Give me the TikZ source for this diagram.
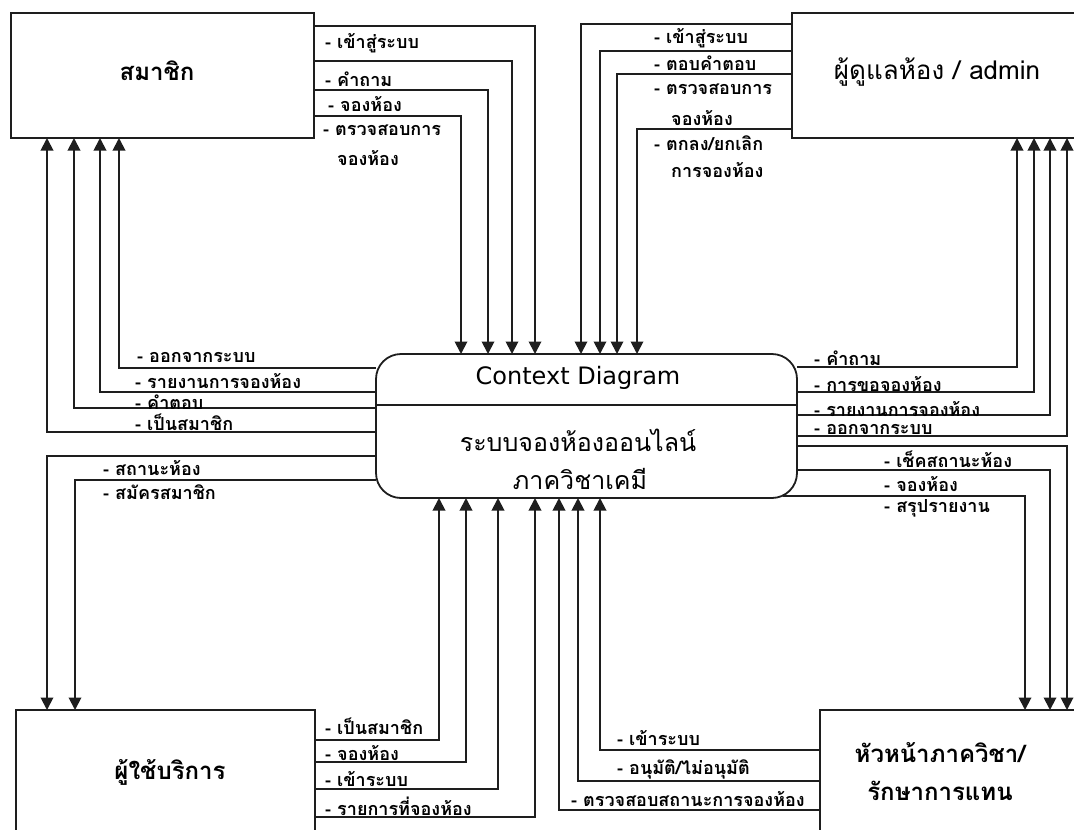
\documentclass[tikz,border=0pt]{standalone}
\usepackage{fontspec}
\setmainfont[Script=Thai]{Loma}
\newfontfamily\latinsans{DejaVu Sans}
\usetikzlibrary{arrows.meta,calc}
\definecolor{linec}{HTML}{1E1E1E}

\begin{document}
\begin{tikzpicture}[x=1pt,y=-1pt,
  box/.style={draw=linec, line width=1.8pt, outer sep=0pt, inner sep=0pt, anchor=north west},
  flow/.style={draw=linec, line width=1.9pt, -{Triangle[width=12.5pt,length=12.5pt]}},
  lbl/.style={anchor=west, inner sep=0pt, font=\fontsize{18}{20}\selectfont\bfseries},
  title/.style={inner sep=0pt, font=\fontsize{24}{28}\selectfont\bfseries},
  ctext/.style={inner sep=0pt, font=\fontsize{25}{29}\selectfont}]

\fill[white] (0,0) rectangle (1074,830);
\useasboundingbox (0,0) rectangle (1074,830);
\clip (0,0) rectangle (1074,830);

% external entities and the process
\node[box, minimum width=303pt, minimum height=125pt] (A) at (11,13) {};
\node[box, minimum width=290pt, minimum height=125pt] (B) at (792,13) {};
\node[box, rounded corners=25pt, minimum width=421pt, minimum height=144pt] (C) at (376,354) {};
\node[box, minimum width=299pt, minimum height=124pt] (D) at (16,710) {};
\node[box, minimum width=262pt, minimum height=124pt] (E) at (820,710) {};

\node[title] (tA) at (157,71) {สมาชิก};
\node[ctext, font=\fontsize{26}{30}\selectfont] (tB) at (937,72) {ผู้ดูแลห้อง / admin};
\node[inner sep=0pt, font=\latinsans\fontsize{24}{28}\selectfont] (tC1) at (578,378) {Context Diagram};
\node[ctext] (tC2) at (578,440) {ระบบจองห้องออนไลน์};
\node[ctext] (tC3) at (580,479) {ภาควิชาเคมี};
\node[title] (tD) at (170,772) {ผู้ใช้บริการ};
\node[title, align=center] (tE) at (940,772) {หัวหน้าภาควิชา/\\[10pt]รักษาการแทน};

\draw[linec, line width=1.5pt] (C.west |- 0,405) -- (C.east |- 0,405);

% สมาชิก -> process
\draw[flow] (A.east |- 0,26)  -| (535,0 |- C.north);
\draw[flow] (A.east |- 0,61)  -| (512,0 |- C.north);
\draw[flow] (A.east |- 0,90)  -| (488,0 |- C.north);
\draw[flow] (A.east |- 0,116) -| (461,0 |- C.north);
\node[lbl] (a1) at (325,43)  {- เข้าสู่ระบบ};
\node[lbl] (a2) at (325,79)  {- คำถาม};
\node[lbl] (a3) at (328,104) {- จองห้อง};
\node[lbl] (a4) at (323,130) {- ตรวจสอบการ};
\node[lbl] (a5) at (337,158) {จองห้อง};

% process -> สมาชิก
\draw[flow] (C.west |- 0,368) -| (119,0 |- A.south);
\draw[flow] (C.west |- 0,392) -| (100,0 |- A.south);
\draw[flow] (C.west |- 0,408) -| (74,0 |- A.south);
\draw[flow] (C.west |- 0,432) -| (47,0 |- A.south);
\node[lbl] (b1) at (137,357) {- ออกจากระบบ};
\node[lbl] (b2) at (135,381) {- รายงานการจองห้อง};
\node[lbl] (b3) at (135,402) {- คำตอบ};
\node[lbl] (b4) at (135,422) {- เป็นสมาชิก};

% process -> ผู้ใช้บริการ
\draw[flow] (C.west |- 0,456) -| (47,0 |- D.north);
\draw[flow] (C.west |- 0,480) -| (75,0 |- D.north);
\node[lbl] (c1) at (103,468) {- สถานะห้อง};
\node[lbl] (c2) at (103,492) {- สมัครสมาชิก};

% ผู้ดูแลห้อง -> process
\draw[flow] (B.west |- 0,24)  -| (581,0 |- C.north);
\draw[flow] (B.west |- 0,51)  -| (600,0 |- C.north);
\draw[flow] (B.west |- 0,74)  -| (617,0 |- C.north);
\draw[flow] (B.west |- 0,129) -| (637,0 |- C.north);
\node[lbl] (d1) at (654,38)  {- เข้าสู่ระบบ};
\node[lbl] (d2) at (654,63)  {- ตอบคำตอบ};
\node[lbl] (d3) at (654,89)  {- ตรวจสอบการ};
\node[lbl] (d4) at (671,118) {จองห้อง};
\node[lbl] (d5) at (654,143) {- ตกลง/ยกเลิก};
\node[lbl] (d6) at (671,170) {การจองห้อง};

% process -> ผู้ดูแลห้อง
\draw[flow] (C.east |- 0,367) -| (1017,0 |- B.south);
\draw[flow] (C.east |- 0,392) -| (1034,0 |- B.south);
\draw[flow] (C.east |- 0,415) -| (1050,0 |- B.south);
\draw[flow] (C.east |- 0,436) -| (1067,0 |- B.south);
\node[lbl] (e1) at (814,358) {- คำถาม};
\node[lbl] (e2) at (814,384) {- การขอจองห้อง};
\node[lbl] (e3) at (814,409) {- รายงานการจองห้อง};
\node[lbl] (e4) at (814,429) {- ออกจากระบบ};

% process -> หัวหน้าภาควิชา
\coordinate (cse) at ($(C.south east)+(-14,-2)$);
\draw[flow] (C.east |- 0,446) -| (1067,0 |- E.north);
\draw[flow] (C.east |- 0,470) -| (1050,0 |- E.north);
\draw[flow] (cse) -| (1025,0 |- E.north);
\node[lbl] (f1) at (884,459) {- เช็คสถานะห้อง};
\node[lbl] (f2) at (884,484) {- จองห้อง};
\node[lbl] (f3) at (884,508) {- สรุปรายงาน};

% ผู้ใช้บริการ -> process
\draw[flow] (D.east |- 0,740) -| (439,0 |- C.south);
\draw[flow] (D.east |- 0,762) -| (466,0 |- C.south);
\draw[flow] (D.east |- 0,789) -| (498,0 |- C.south);
\draw[flow] (D.east |- 0,817) -| (535,0 |- C.south);
\node[lbl] (g1) at (325,726) {- เป็นสมาชิก};
\node[lbl] (g2) at (325,753) {- จองห้อง};
\node[lbl] (g3) at (325,779) {- เข้าระบบ};
\node[lbl] (g4) at (325,806) {- รายการที่จองห้อง};

% หัวหน้าภาควิชา -> process
\draw[flow] (E.west |- 0,750) -| (600,0 |- C.south);
\draw[flow] (E.west |- 0,781) -| (578,0 |- C.south);
\draw[flow] (E.west |- 0,810) -| (559,0 |- C.south);
\node[lbl] (h1) at (617,738) {- เข้าระบบ};
\node[lbl] (h2) at (617,769) {- อนุมัติ/ไม่อนุมัติ};
\node[lbl] (h3) at (571,799) {- ตรวจสอบสถานะการจองห้อง};

\end{tikzpicture}
\end{document}
